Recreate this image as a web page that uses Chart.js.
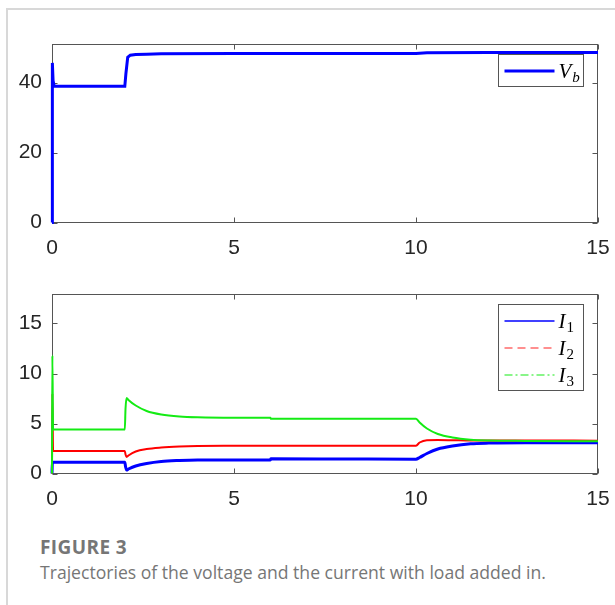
<!DOCTYPE html>
<html>
<head>
<meta charset="utf-8">
<script src="https://cdn.jsdelivr.net/npm/chart.js@4.4.1/dist/chart.umd.min.js"></script>
<style>
  html, body { margin: 0; padding: 0; background: #fff; }
  body { width: 615px; height: 605px; position: relative; overflow: hidden; }
  .frame { position: absolute; left: 6px; top: 8px; right: 0; bottom: 0;
           border-left: 2px solid #d8d8d8; border-top: 2px solid #d8d8d8; }
  .plot { position: absolute; left: 0; width: 615px; }
  #topBox { top: 0; height: 270px; }
  #bottomBox { top: 270px; height: 260px; }
  .caption { position: absolute; left: 40px; top: 535px; line-height: 25px;
             font-family: 'Open Sans', sans-serif; color: #767676; }
  .caption .num { font-weight: 700; font-size: 19px; letter-spacing: 0.4px; }
  .caption .txt { font-size: 17.6px; }
</style>
</head>
<body>
<div class="frame"></div>
<div class="plot" id="topBox"><canvas id="voltage" width="615" height="270"></canvas></div>
<div class="plot" id="bottomBox"><canvas id="current" width="615" height="260"></canvas></div>
<div class="caption">
  <div class="num">FIGURE 3</div>
  <div class="txt">Trajectories of the voltage and the current with load added in.</div>
</div>

<script>
// tick labels
const xTicks = [0, 5, 10, 15];
const vTicks = [0, 20, 40];
const iTicks = [0, 5, 10, 15];

// top panel: bus voltage
const vbTime   = [0, 0.01, 0.03, 0.06, 2.0, 2.03, 2.08, 2.15, 2.3, 2.6, 3.0, 5, 8, 10, 10.3, 12, 15];
const vbValues = [0, 45.6, 40.5, 38.9, 38.9, 42.5, 47.2, 47.8, 48.0, 48.1, 48.2, 48.3, 48.3, 48.3, 48.5, 48.6, 48.6];

// bottom panel: currents
const iTime    = [0, 0.01, 0.03, 2.0, 2.02, 2.05, 2.1, 2.3, 2.6, 3.0, 3.5, 4, 5, 6, 6.01, 8, 10, 10.1, 10.3, 10.6, 11, 11.5, 12, 13, 15];
const i1Values = [0, 1.13, 1.13, 1.13, 0.7, 0.35, 0.45, 0.75, 1.0, 1.2, 1.3, 1.35, 1.36, 1.36, 1.47, 1.45, 1.43, 1.6, 2.0, 2.45, 2.75, 2.97, 3.04, 3.08, 3.08];
const i2Values = [0, 8.0, 2.25, 2.25, 1.9, 1.65, 1.8, 2.2, 2.45, 2.6, 2.7, 2.75, 2.77, 2.78, 2.78, 2.78, 2.78, 3.1, 3.33, 3.35, 3.33, 3.3, 3.3, 3.3, 3.28];
const i3Values = [0, 11.8, 4.4, 4.4, 6.5, 7.55, 7.35, 6.8, 6.25, 5.9, 5.7, 5.62, 5.58, 5.57, 5.47, 5.47, 5.48, 5.1, 4.5, 3.95, 3.6, 3.38, 3.3, 3.26, 3.22];

const pts = (xs, ys) => xs.map((x, k) => ({ x: x, y: ys[k] }));

// matlab style box with inward ticks on all four sides
const boxPlugin = {
    id: 'matlabBox',
    beforeDatasetsDraw(chart) {
        const { ctx, chartArea: a, scales: { x, y } } = chart;
        const L = Math.round(a.left) + 0.5, R = Math.round(a.right) - 0.5;
        const T = Math.round(a.top) + 0.5, B = Math.round(a.bottom) - 0.5;
        ctx.save();
        ctx.strokeStyle = '#555';
        ctx.lineWidth = 1;
        ctx.strokeRect(L, T, R - L, B - T);
        ctx.beginPath();
        x.ticks.forEach(t => {
            const px = Math.round(x.getPixelForValue(t.value)) + 0.5;
            ctx.moveTo(px, B); ctx.lineTo(px, B - 5);
            ctx.moveTo(px, T); ctx.lineTo(px, T + 5);
        });
        y.ticks.forEach(t => {
            const py = Math.round(y.getPixelForValue(t.value)) + 0.5;
            ctx.moveTo(L, py); ctx.lineTo(L + 5, py);
            ctx.moveTo(R, py); ctx.lineTo(R - 5, py);
        });
        ctx.stroke();
        ctx.restore();
    }
};

// boxed legend with subscripted italic labels
const legendPlugin = {
    id: 'boxLegend',
    afterDatasetsDraw(chart, args, opts) {
        const { ctx, chartArea: a } = chart;
        const items = opts.items;
        const w = 85, h = 32 + (items.length - 1) * 27;
        const bx = Math.round(a.right - 15 - w) + 0.5, by = Math.round(a.top + 10) + 0.5;
        ctx.save();
        ctx.fillStyle = '#fff';
        ctx.fillRect(bx, by, w, h);
        ctx.strokeStyle = '#555';
        ctx.lineWidth = 1;
        ctx.strokeRect(bx, by, w, h);
        items.forEach((it, k) => {
            const cy = Math.round(by + 16 + k * 27);
            ctx.strokeStyle = it.color;
            ctx.lineWidth = it.width;
            ctx.setLineDash(it.dash || []);
            ctx.beginPath();
            ctx.moveTo(bx + 6, cy);
            ctx.lineTo(bx + 56, cy);
            ctx.stroke();
            ctx.setLineDash([]);
            ctx.fillStyle = '#000';
            ctx.textBaseline = 'alphabetic';
            ctx.textAlign = 'left';
            ctx.font = 'italic 21px "Liberation Serif"';
            ctx.fillText(it.main, bx + 60, cy + 7);
            const mw = ctx.measureText(it.main).width;
            ctx.font = (it.subItalic ? 'italic ' : '') + '15px "Liberation Serif"';
            ctx.fillText(it.sub, bx + 60 + mw + 1, cy + 11);
        });
        ctx.restore();
    }
};

function makeChart(id, datasets, yMax, yTicks, padTop, xHeight, legendItems) {
    return new Chart(document.getElementById(id), {
        type: 'line',
        data: { datasets: datasets },
        options: {
            responsive: false,
            animation: false,
            events: [],
            layout: { padding: { top: padTop, right: 17, left: 0, bottom: 0 } },
            elements: { point: { radius: 0 } },
            plugins: {
                legend: { display: false },
                tooltip: { enabled: false },
                boxLegend: { items: legendItems }
            },
            scales: {
                x: {
                    type: 'linear', min: 0, max: 15,
                    afterBuildTicks: s => { s.ticks = xTicks.map(v => ({ value: v })); },
                    afterFit: s => { s.height = xHeight; s.paddingLeft = 0; s.paddingRight = 0; },
                    grid: { display: false, drawTicks: false },
                    border: { display: false },
                    ticks: { padding: 13, color: '#262626', font: { family: 'Liberation Sans', size: 21 } }
                },
                y: {
                    min: 0, max: yMax,
                    afterBuildTicks: s => { s.ticks = yTicks.map(v => ({ value: v })); },
                    afterFit: s => { s.width = 52; s.paddingTop = 0; s.paddingBottom = 0; },
                    grid: { display: false, drawTicks: false },
                    border: { display: false },
                    ticks: { padding: 10, color: '#262626', font: { family: 'Liberation Sans', size: 21 } }
                }
            }
        },
        plugins: [boxPlugin, legendPlugin]
    });
}

makeChart('voltage', [{
    label: 'Vb',
    data: pts(vbTime, vbValues),
    borderColor: '#0000ff',
    borderWidth: 3,
    clip: 6
}], 51, vTicks, 44, 47.5, [
    { main: 'V', sub: 'b', subItalic: true, color: '#0000ff', width: 3 }
]);

makeChart('current', [
    { label: 'I3', data: pts(iTime, i3Values), borderColor: '#14eb14', borderWidth: 2, clip: 6, cubicInterpolationMode: 'monotone' },
    { label: 'I2', data: pts(iTime, i2Values), borderColor: '#ff0000', borderWidth: 2, clip: 6, cubicInterpolationMode: 'monotone' },
    { label: 'I1', data: pts(iTime, i1Values), borderColor: '#0000ff', borderWidth: 3, clip: 6, cubicInterpolationMode: 'monotone' }
], 18, iTicks, 23.5, 56.5, [
    { main: 'I', sub: '1', color: '#0000ff', width: 1.5 },
    { main: 'I', sub: '2', color: '#ff2020', width: 1.2, dash: [8, 5] },
    { main: 'I', sub: '3', color: '#14eb14', width: 1.2, dash: [8, 3, 2, 3] }
]);
</script>
</body>
</html>
